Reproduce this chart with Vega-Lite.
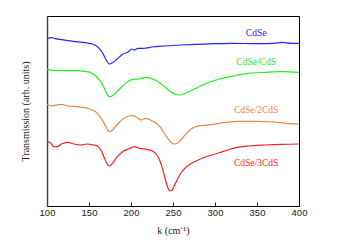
{
  "$schema": "https://vega.github.io/schema/vega-lite/v6.json",
  "autosize": "none",
  "padding": {"left": 47, "top": 16, "right": 39, "bottom": 44},
  "width": 252,
  "height": 190,
  "background": "white",
  "config": {"view": {"stroke": "black", "strokeWidth": 1}},
  "datasets": {
    "curves": [
      {"k":100,"t":167.0,"s":"CdSe"},{"k":105,"t":168.3,"s":"CdSe"},{"k":110,"t":167.3,"s":"CdSe"},{"k":115,"t":166.7,"s":"CdSe"},{"k":125,"t":165.3,"s":"CdSe"},{"k":135,"t":164.3,"s":"CdSe"},{"k":150,"t":162.7,"s":"CdSe"},{"k":157,"t":161,"s":"CdSe"},{"k":162,"t":157.7,"s":"CdSe"},{"k":166,"t":153.3,"s":"CdSe"},{"k":170,"t":146.7,"s":"CdSe"},{"k":174,"t":142,"s":"CdSe"},{"k":178,"t":143.3,"s":"CdSe"},{"k":183,"t":146.7,"s":"CdSe"},{"k":190,"t":151.7,"s":"CdSe"},{"k":197,"t":154.3,"s":"CdSe"},{"k":201,"t":157,"s":"CdSe"},{"k":204,"t":156,"s":"CdSe"},{"k":208,"t":157.7,"s":"CdSe"},{"k":215,"t":157.7,"s":"CdSe"},{"k":225,"t":159,"s":"CdSe"},{"k":240,"t":160,"s":"CdSe"},{"k":260,"t":161,"s":"CdSe"},{"k":280,"t":161.7,"s":"CdSe"},{"k":300,"t":162.3,"s":"CdSe"},{"k":320,"t":162.7,"s":"CdSe"},{"k":350,"t":162.3,"s":"CdSe"},{"k":370,"t":162.7,"s":"CdSe"},{"k":380,"t":163.7,"s":"CdSe"},{"k":390,"t":162.7,"s":"CdSe"},{"k":400,"t":162.7,"s":"CdSe"},

      {"k":100,"t":136.7,"s":"CdSe/CdS"},{"k":110,"t":135.3,"s":"CdSe/CdS"},{"k":120,"t":135.3,"s":"CdSe/CdS"},{"k":135,"t":135.3,"s":"CdSe/CdS"},{"k":145,"t":134.7,"s":"CdSe/CdS"},{"k":152,"t":133.3,"s":"CdSe/CdS"},{"k":158,"t":130,"s":"CdSe/CdS"},{"k":163,"t":125.3,"s":"CdSe/CdS"},{"k":167,"t":120,"s":"CdSe/CdS"},{"k":171,"t":112.7,"s":"CdSe/CdS"},{"k":174,"t":109.3,"s":"CdSe/CdS"},{"k":178,"t":110.3,"s":"CdSe/CdS"},{"k":183,"t":114.3,"s":"CdSe/CdS"},{"k":190,"t":120,"s":"CdSe/CdS"},{"k":197,"t":125,"s":"CdSe/CdS"},{"k":203,"t":126.7,"s":"CdSe/CdS"},{"k":210,"t":127,"s":"CdSe/CdS"},{"k":217,"t":128.7,"s":"CdSe/CdS"},{"k":225,"t":127.3,"s":"CdSe/CdS"},{"k":232,"t":124.3,"s":"CdSe/CdS"},{"k":240,"t":119.3,"s":"CdSe/CdS"},{"k":247,"t":114.3,"s":"CdSe/CdS"},{"k":253,"t":111.7,"s":"CdSe/CdS"},{"k":258,"t":111,"s":"CdSe/CdS"},{"k":265,"t":112.7,"s":"CdSe/CdS"},{"k":275,"t":116.7,"s":"CdSe/CdS"},{"k":290,"t":122.7,"s":"CdSe/CdS"},{"k":305,"t":127,"s":"CdSe/CdS"},{"k":320,"t":129.7,"s":"CdSe/CdS"},{"k":340,"t":132.7,"s":"CdSe/CdS"},{"k":360,"t":133.7,"s":"CdSe/CdS"},{"k":380,"t":134.3,"s":"CdSe/CdS"},{"k":400,"t":133.7,"s":"CdSe/CdS"},

      {"k":100,"t":101.7,"s":"CdSe/2CdS"},{"k":105,"t":100,"s":"CdSe/2CdS"},{"k":110,"t":100.7,"s":"CdSe/2CdS"},{"k":117,"t":101.7,"s":"CdSe/2CdS"},{"k":125,"t":100,"s":"CdSe/2CdS"},{"k":135,"t":99.3,"s":"CdSe/2CdS"},{"k":145,"t":98.3,"s":"CdSe/2CdS"},{"k":152,"t":96.7,"s":"CdSe/2CdS"},{"k":158,"t":94.3,"s":"CdSe/2CdS"},{"k":163,"t":89.3,"s":"CdSe/2CdS"},{"k":167,"t":84.3,"s":"CdSe/2CdS"},{"k":171,"t":77.7,"s":"CdSe/2CdS"},{"k":174,"t":74.3,"s":"CdSe/2CdS"},{"k":178,"t":76,"s":"CdSe/2CdS"},{"k":183,"t":81,"s":"CdSe/2CdS"},{"k":190,"t":86.7,"s":"CdSe/2CdS"},{"k":197,"t":90,"s":"CdSe/2CdS"},{"k":202,"t":90.3,"s":"CdSe/2CdS"},{"k":207,"t":88.7,"s":"CdSe/2CdS"},{"k":212,"t":86,"s":"CdSe/2CdS"},{"k":217,"t":87.7,"s":"CdSe/2CdS"},{"k":223,"t":86,"s":"CdSe/2CdS"},{"k":230,"t":82.7,"s":"CdSe/2CdS"},{"k":236,"t":77.7,"s":"CdSe/2CdS"},{"k":241,"t":71,"s":"CdSe/2CdS"},{"k":246,"t":65.3,"s":"CdSe/2CdS"},{"k":251,"t":62,"s":"CdSe/2CdS"},{"k":256,"t":63.3,"s":"CdSe/2CdS"},{"k":262,"t":68.7,"s":"CdSe/2CdS"},{"k":268,"t":74.3,"s":"CdSe/2CdS"},{"k":275,"t":78.7,"s":"CdSe/2CdS"},{"k":282,"t":80.3,"s":"CdSe/2CdS"},{"k":295,"t":81.3,"s":"CdSe/2CdS"},{"k":310,"t":83.3,"s":"CdSe/2CdS"},{"k":330,"t":84.7,"s":"CdSe/2CdS"},{"k":350,"t":84.7,"s":"CdSe/2CdS"},{"k":370,"t":84,"s":"CdSe/2CdS"},{"k":385,"t":82.7,"s":"CdSe/2CdS"},{"k":400,"t":82,"s":"CdSe/2CdS"},

      {"k":100,"t":64.3,"s":"CdSe/3CdS"},{"k":104,"t":63.3,"s":"CdSe/3CdS"},{"k":108,"t":59.3,"s":"CdSe/3CdS"},{"k":112,"t":59.3,"s":"CdSe/3CdS"},{"k":117,"t":62,"s":"CdSe/3CdS"},{"k":125,"t":63.7,"s":"CdSe/3CdS"},{"k":132,"t":62,"s":"CdSe/3CdS"},{"k":140,"t":61,"s":"CdSe/3CdS"},{"k":148,"t":62,"s":"CdSe/3CdS"},{"k":155,"t":61,"s":"CdSe/3CdS"},{"k":160,"t":60,"s":"CdSe/3CdS"},{"k":164,"t":56,"s":"CdSe/3CdS"},{"k":168,"t":48.7,"s":"CdSe/3CdS"},{"k":171,"t":42.7,"s":"CdSe/3CdS"},{"k":174,"t":40,"s":"CdSe/3CdS"},{"k":178,"t":42.7,"s":"CdSe/3CdS"},{"k":183,"t":48.7,"s":"CdSe/3CdS"},{"k":190,"t":54.3,"s":"CdSe/3CdS"},{"k":197,"t":57,"s":"CdSe/3CdS"},{"k":204,"t":59.3,"s":"CdSe/3CdS"},{"k":210,"t":57.7,"s":"CdSe/3CdS"},{"k":218,"t":56.7,"s":"CdSe/3CdS"},{"k":225,"t":55.3,"s":"CdSe/3CdS"},{"k":230,"t":52,"s":"CdSe/3CdS"},{"k":234,"t":46,"s":"CdSe/3CdS"},{"k":238,"t":36,"s":"CdSe/3CdS"},{"k":241,"t":26,"s":"CdSe/3CdS"},{"k":244,"t":18.3,"s":"CdSe/3CdS"},{"k":246,"t":15,"s":"CdSe/3CdS"},{"k":249,"t":16,"s":"CdSe/3CdS"},{"k":253,"t":22.7,"s":"CdSe/3CdS"},{"k":258,"t":31,"s":"CdSe/3CdS"},{"k":264,"t":37.7,"s":"CdSe/3CdS"},{"k":272,"t":42.7,"s":"CdSe/3CdS"},{"k":282,"t":46.7,"s":"CdSe/3CdS"},{"k":292,"t":50,"s":"CdSe/3CdS"},{"k":305,"t":53.3,"s":"CdSe/3CdS"},{"k":315,"t":56,"s":"CdSe/3CdS"},{"k":325,"t":58.3,"s":"CdSe/3CdS"},{"k":340,"t":60,"s":"CdSe/3CdS"},{"k":360,"t":61,"s":"CdSe/3CdS"},{"k":380,"t":61.7,"s":"CdSe/3CdS"},{"k":400,"t":62,"s":"CdSe/3CdS"}
    ],
    "labels": [
      {"k":349,"t":172.7,"s":"CdSe"},
      {"k":349,"t":144,"s":"CdSe/CdS"},
      {"k":349,"t":96,"s":"CdSe/2CdS"},
      {"k":349,"t":42.7,"s":"CdSe/3CdS"}
    ]
  },
  "layer": [
    {
      "data": {"name": "curves"},
      "mark": {"type": "line", "strokeWidth": 1.2, "interpolate": "monotone"},
      "encoding": {
        "x": {
          "field": "k", "type": "quantitative",
          "scale": {"domain": [100, 400], "nice": false, "zero": false},
          "axis": {
            "values": [100,125,150,175,200,225,250,275,300,325,350,375,400],
            "labelExpr": "datum.value % 50 === 0 ? datum.label : ''",
            "title": "k (cm⁻¹)",
            "titleFont": "Liberation Serif", "titleFontWeight": "normal", "titleFontSize": 10, "titleColor": "#222", "titlePadding": 9,
            "labelFont": "Liberation Sans", "labelFontSize": 9.5, "labelColor": "#222", "labelPadding": 5,
            "tickColor": "#222",
            "tickSize": {"condition": {"test": "datum.value % 50 === 0", "value": -4}, "value": -2},
            "domainColor": "black", "grid": false, "labelFlush": false
          }
        },
        "y": {
          "field": "t", "type": "quantitative",
          "scale": {"domain": [0, 190], "nice": false},
          "axis": {
            "title": "Transmission (arb. units)", "labels": false, "ticks": false, "grid": false,
            "titleFont": "Liberation Serif", "titleFontWeight": "normal", "titleFontSize": 10, "titleColor": "#222", "titlePadding": 17,
            "domainColor": "#444", "domainWidth": 1.5
          }
        },
        "color": {
          "field": "s", "type": "nominal",
          "scale": {"domain": ["CdSe","CdSe/CdS","CdSe/2CdS","CdSe/3CdS"], "range": ["#2424ff","#22ee22","#e8874a","#ff1f1f"]},
          "legend": null
        },
        "detail": {"field": "s"}
      }
    },
    {
      "data": {"name": "labels"},
      "mark": {"type": "text", "font": "Liberation Serif", "fontSize": 9.5, "align": "center", "baseline": "middle"},
      "encoding": {
        "x": {"field": "k", "type": "quantitative"},
        "y": {"field": "t", "type": "quantitative"},
        "text": {"field": "s"},
        "color": {"field": "s", "type": "nominal", "legend": null}
      }
    }
  ]
}
